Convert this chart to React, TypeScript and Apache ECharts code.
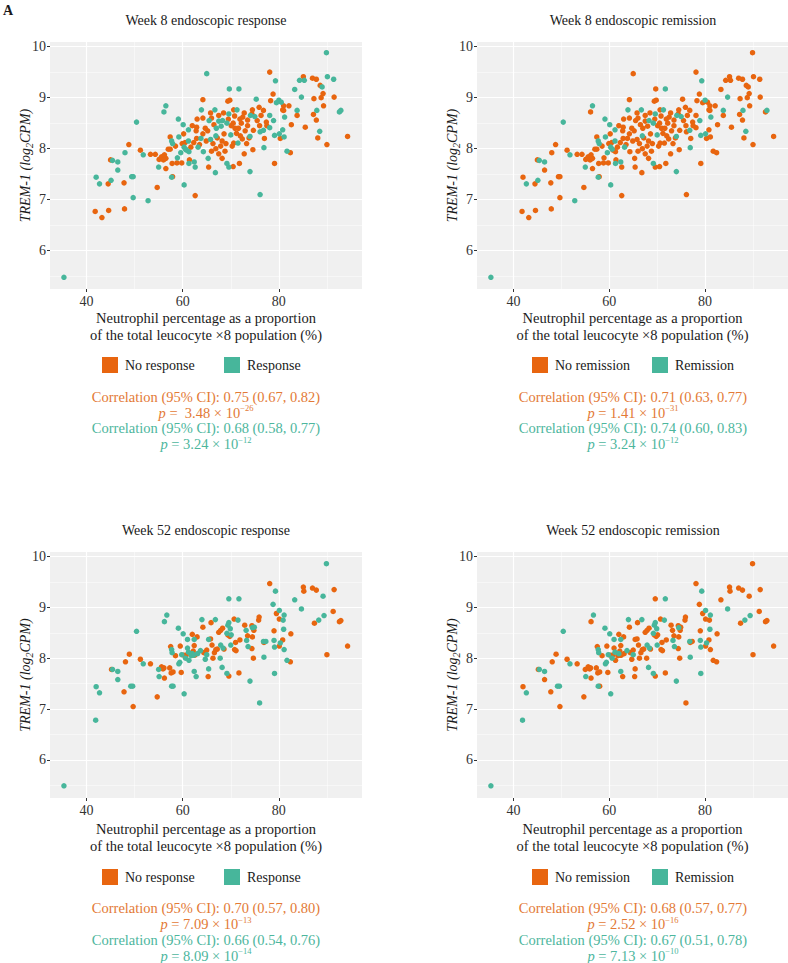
import React, { useEffect, useRef } from "react";
import * as echarts from "echarts";

const ORANGE = "#E8650F";
const TEAL = "#47B69B";
const ORANGE_TXT = "#E37A36";
const TEAL_TXT = "#4DB69D";
const FONT = "Liberation Serif";
const INK = "#1a1a1a";
const TICK_INK = "#333333";

// ---- Week 8 data (x: neutrophil %, y: TREM-1 log2CPM) ----
const w8Neutrophil = [
  35.3, 41.8, 43.2, 44.6, 47.9, 42.0, 42.7, 44.5, 45.1, 47.8, 49.4, 49.7, 48.8, 48.0, 45.4, 46.5, 45.0, 46.5, 49.7, 50.4,
  51.8, 51.2, 52.8, 54.7, 55.0, 53.3, 54.3, 55.1, 55.6, 56.0, 56.5, 56.2, 56.5, 57.4, 57.7, 57.9, 57.0, 57.4, 57.8, 58.8,
  58.9, 57.7, 57.9, 56.5, 56.1, 59.1, 60.1, 59.2, 60.2, 59.6, 60.3, 59.9, 60.8, 61.3, 60.5, 61.2, 62.0, 62.9, 61.7, 61.2,
  62.3, 62.9, 63.8, 63.5, 64.9, 64.2, 64.2, 64.2, 63.9, 65.0, 65.8, 66.7, 65.8, 65.2, 66.9, 66.3, 66.9, 67.2, 67.5, 66.5,
  68.0, 68.6, 68.2, 67.9, 69.6, 69.5, 69.2, 70.1, 69.4, 69.8, 69.7, 70.6, 70.8, 71.7, 71.3, 70.0, 70.6, 70.3, 71.5, 71.2,
  71.9, 72.2, 72.4, 72.8, 73.0, 73.5, 73.8, 74.0, 74.5, 74.4, 74.1, 74.7, 74.6, 75.3, 75.0, 75.9, 76.3, 76.8, 76.1, 76.8,
  76.9, 76.1, 74.0, 71.8, 72.8, 69.2, 69.6, 68.2, 66.8, 65.4, 65.3, 64.3, 62.6, 61.4, 61.3, 59.8, 60.3, 62.6, 77.4, 78.1,
  78.8, 78.3, 79.3, 80.0, 79.5, 80.5, 81.0, 82.1, 81.0, 78.1, 78.9, 80.8, 81.2, 78.1, 77.5, 79.1, 79.1, 80.1, 80.8, 80.3,
  81.1, 81.7, 82.4, 82.6, 83.8, 83.8, 83.3, 84.3, 85.3, 85.1, 84.7, 87.0, 87.8, 87.3, 88.8, 88.6, 89.0, 89.9, 90.1, 91.4,
  89.2, 91.5, 87.2, 87.9, 87.8, 89.3, 92.6, 92.9, 85.5, 88.5, 88.1, 90.0, 94.3, 63.0, 62.8, 64.7, 65.5, 66.0, 67.5, 68.5,
  67.0, 68.3, 70.5, 70.9, 71.6, 72.0, 73.3, 72.5, 75.5, 76.0, 69.0, 68.8, 58.5, 63.2, 62.4, 60.6, 66.0, 67.5, 70.5, 73.5,
  77.0,
];
const w8Trem1 = [
  5.48, 6.77, 6.65, 6.79, 6.82, 7.44, 7.31, 7.31, 7.38, 7.33, 7.45, 7.45, 8.08, 7.92, 7.77, 7.74, 7.78, 7.58, 7.04, 8.52,
  7.88, 7.97, 6.98, 7.24, 7.64, 7.89, 7.89, 7.79, 7.84, 7.78, 7.81, 7.88, 7.61, 8.23, 8.15, 8.10, 7.99, 7.99, 7.71, 7.72,
  7.82, 7.44, 7.45, 8.84, 8.72, 8.58, 8.47, 8.23, 8.29, 7.92, 8.03, 8.10, 7.97, 7.94, 8.12, 8.37, 8.45, 8.42, 8.03, 8.15,
  8.12, 8.20, 8.20, 8.08, 8.15, 8.29, 8.60, 8.96, 8.76, 9.47, 8.70, 8.76, 8.18, 8.35, 8.00, 8.10, 8.25, 8.21, 8.54, 8.47,
  8.44, 8.29, 8.15, 8.05, 8.68, 8.58, 8.50, 8.45, 8.93, 8.95, 9.17, 8.76, 8.64, 9.17, 8.76, 8.27, 8.11, 8.05, 8.11, 8.30,
  8.58, 8.50, 8.19, 8.70, 8.35, 8.56, 8.21, 8.24, 8.76, 8.68, 8.65, 8.36, 7.98, 8.97, 8.63, 8.81, 8.65, 8.75, 8.33, 8.36,
  8.02, 7.10, 7.55, 7.71, 7.90, 7.71, 7.64, 7.81, 7.53, 7.64, 7.81, 7.94, 7.64, 7.78, 7.71, 7.72, 7.29, 7.08, 8.52, 9.50,
  9.07, 8.94, 9.33, 8.95, 8.90, 8.91, 8.84, 8.84, 8.75, 8.65, 8.55, 8.76, 8.62, 8.41, 8.45, 8.26, 7.71, 8.29, 8.37, 8.20,
  8.23, 7.95, 7.92, 8.47, 8.75, 8.65, 9.16, 9.34, 9.34, 9.41, 9.01, 9.38, 9.36, 8.98, 9.00, 9.24, 9.21, 9.88, 9.41, 9.36,
  9.08, 9.01, 8.67, 8.75, 8.56, 8.84, 8.72, 8.75, 8.42, 8.34, 8.21, 8.08, 8.24, 8.58, 8.35, 8.40, 8.55, 8.60, 8.65, 8.70,
  8.40, 8.55, 8.50, 8.40, 8.40, 8.25, 8.10, 8.62, 8.55, 8.45, 8.10, 7.95, 8.05, 8.03, 7.74, 7.99, 7.95, 7.90, 7.65, 8.45,
  8.20,
];
// 1 = endoscopic response at week 8
const w8Response = [
  1, 0, 0, 0, 0, 1, 1, 0, 1, 0, 1, 1, 0, 1, 1, 1, 0, 1, 1, 1,
  1, 0, 1, 0, 1, 0, 0, 0, 0, 0, 0, 0, 0, 0, 1, 1, 0, 0, 0, 0,
  1, 1, 0, 1, 1, 1, 1, 1, 0, 1, 1, 0, 1, 1, 0, 1, 0, 0, 0, 1,
  0, 0, 1, 0, 0, 0, 0, 0, 1, 1, 0, 1, 1, 0, 0, 0, 1, 0, 1, 0,
  1, 0, 0, 0, 1, 0, 1, 0, 0, 0, 1, 0, 0, 1, 1, 1, 0, 0, 1, 0,
  0, 0, 0, 0, 0, 0, 0, 1, 0, 0, 1, 0, 0, 1, 1, 0, 0, 0, 1, 1,
  1, 1, 1, 0, 0, 1, 1, 0, 1, 0, 1, 1, 1, 0, 1, 0, 1, 0, 0, 0,
  0, 0, 1, 1, 1, 1, 0, 0, 0, 1, 1, 0, 1, 1, 0, 1, 0, 1, 1, 0,
  1, 1, 0, 0, 1, 0, 1, 1, 1, 0, 1, 0, 0, 0, 0, 0, 1, 1, 1, 1,
  0, 0, 0, 1, 0, 0, 1, 1, 0, 1, 0, 0, 0, 0, 0, 0, 1, 0, 0, 0,
  1, 1, 0, 0, 0, 0, 0, 0, 0, 0, 0, 0, 0, 1, 1, 1, 0, 0, 0, 0,
  0,
];
// 1 = endoscopic remission at week 8
const w8Remission = [
  1, 0, 0, 0, 0, 0, 1, 0, 1, 0, 0, 0, 0, 0, 1, 1, 0, 0, 0, 1,
  1, 0, 1, 0, 1, 0, 0, 0, 0, 0, 0, 0, 0, 0, 1, 1, 0, 0, 0, 0,
  0, 1, 0, 1, 0, 1, 1, 1, 0, 1, 1, 0, 0, 0, 0, 1, 0, 0, 0, 1,
  0, 0, 0, 0, 0, 0, 0, 0, 1, 0, 0, 1, 0, 0, 0, 0, 1, 0, 0, 0,
  0, 0, 0, 0, 1, 0, 1, 0, 0, 0, 0, 0, 0, 1, 1, 1, 0, 0, 0, 0,
  0, 0, 0, 0, 0, 0, 0, 1, 0, 0, 1, 0, 0, 0, 1, 0, 0, 0, 0, 1,
  1, 0, 1, 0, 0, 1, 0, 0, 0, 0, 0, 0, 0, 0, 1, 0, 1, 0, 0, 0,
  0, 0, 1, 1, 0, 0, 0, 0, 0, 0, 1, 0, 1, 0, 0, 1, 0, 1, 0, 0,
  0, 0, 0, 0, 1, 0, 0, 0, 0, 0, 1, 0, 0, 0, 0, 0, 0, 0, 0, 0,
  0, 0, 0, 1, 0, 0, 0, 1, 0, 1, 0, 0, 0, 0, 0, 0, 0, 0, 0, 0,
  0, 1, 0, 0, 0, 0, 0, 0, 0, 0, 0, 0, 0, 1, 1, 1, 0, 0, 0, 0,
  0,
];

// ---- Week 52 data ----
const w52Neutrophil = [
  35.3, 41.9, 42.0, 42.7, 45.4, 46.5, 46.5, 49.2, 49.6, 50.4, 51.8, 55.0, 55.1, 56.2, 56.7, 57.7, 57.8, 57.7, 58.0, 59.1,
  59.2, 59.4, 59.8, 60.1, 60.3, 60.6, 61.0, 61.0, 61.2, 61.3, 61.8, 62.0, 62.3, 62.4, 62.4, 62.8, 63.1, 63.7, 64.0, 64.7,
  65.0, 65.4, 65.4, 66.8, 67.8, 67.9, 68.2, 68.4, 69.2, 69.2, 69.4, 69.6, 69.6, 69.9, 70.0, 70.1, 71.5, 71.7, 73.2, 73.3,
  73.6, 74.0, 74.5, 74.9, 76.0, 76.8, 76.9, 77.3, 78.8, 79.0, 79.1, 79.1, 79.3, 80.1, 80.3, 81.1, 80.9, 81.0, 81.1, 81.7,
  83.3, 84.7, 88.3, 89.2, 89.4, 89.9,
  47.8, 48.1, 48.9, 49.7, 51.2, 45.2, 53.3, 54.7, 55.6, 55.9, 56.1, 56.2, 57.3, 57.5, 57.6, 58.0, 58.5, 59.5, 59.7, 60.2,
  60.7, 62.0, 62.2, 62.4, 62.5, 63.0, 64.2, 64.4, 65.0, 65.3, 65.8, 65.9, 66.1, 66.3, 66.6, 66.9, 67.2, 67.5, 67.9, 68.3,
  68.6, 69.4, 69.6, 69.8, 70.7, 70.8, 71.0, 71.1, 71.7, 71.9, 72.9, 73.5, 74.4, 74.5, 74.4, 74.7, 74.8, 75.8, 75.9, 76.9,
  78.1, 79.0, 79.5, 80.1, 80.1, 80.8, 82.5, 82.4, 85.1, 85.2, 87.0, 87.8, 87.4, 90.0, 91.3, 91.5, 92.6, 92.9, 94.3,
];
const w52Trem1 = [
  5.49, 6.78, 7.44, 7.32, 7.78, 7.74, 7.58, 7.45, 7.45, 8.53, 7.89, 7.78, 7.64, 8.72, 8.85, 8.17, 8.11, 7.45, 7.45, 8.59,
  7.89, 7.92, 8.07, 8.48, 7.30, 8.00, 8.37, 8.20, 8.12, 7.96, 8.05, 8.09, 8.06, 8.37, 7.74, 7.64, 8.09, 8.15, 8.76, 7.98,
  8.07, 8.37, 7.79, 8.76, 8.00, 8.26, 7.82, 8.20, 7.70, 8.49, 8.65, 9.17, 8.70, 8.58, 8.26, 8.46, 8.75, 9.17, 8.55, 8.35,
  8.23, 7.55, 8.60, 8.61, 7.12, 8.33, 8.02, 8.33, 9.06, 8.35, 8.22, 7.70, 9.32, 8.94, 8.30, 8.85, 8.75, 8.57, 8.17, 7.96,
  9.15, 8.97, 8.75, 9.22, 8.84, 9.86,
  7.34, 7.93, 8.08, 7.05, 7.98, 7.78, 7.89, 7.24, 7.83, 7.79, 7.81, 7.61, 7.81, 8.23, 7.71, 7.73, 8.05, 8.24, 7.72, 8.06,
  8.06, 8.47, 8.14, 8.25, 8.06, 8.42, 8.61, 8.11, 8.16, 7.64, 8.38, 8.70, 8.26, 8.00, 8.11, 8.17, 8.18, 8.51, 8.55, 8.59,
  8.18, 8.46, 7.65, 8.43, 8.77, 8.17, 8.31, 8.15, 7.71, 8.36, 8.65, 8.44, 8.64, 8.42, 8.19, 8.00, 8.55, 8.75, 8.81, 8.31,
  9.47, 8.54, 8.88, 8.77, 8.24, 8.36, 8.48, 7.93, 9.40, 9.32, 9.38, 9.34, 8.69, 8.07, 8.92, 9.35, 8.72, 8.74, 8.24,
];
const w52Response = [
  1, 1, 1, 1, 1, 1, 1, 1, 1, 1, 1, 1, 1, 1, 1, 1, 1, 1, 1, 1,
  1, 1, 1, 1, 1, 1, 1, 1, 1, 1, 1, 1, 1, 1, 1, 1, 1, 1, 1, 1,
  1, 1, 1, 1, 1, 1, 1, 1, 1, 1, 1, 1, 1, 1, 1, 1, 1, 1, 1, 1,
  1, 1, 1, 1, 1, 1, 1, 1, 1, 1, 1, 1, 1, 1, 1, 1, 1, 1, 1, 1,
  1, 1, 1, 1, 1, 1,
  0, 0, 0, 0, 0, 0, 0, 0, 0, 0, 0, 0, 0, 0, 0, 0, 0, 0, 0, 0,
  0, 0, 0, 0, 0, 0, 0, 0, 0, 0, 0, 0, 0, 0, 0, 0, 0, 0, 0, 0,
  0, 0, 0, 0, 0, 0, 0, 0, 0, 0, 0, 0, 0, 0, 0, 0, 0, 0, 0, 0,
  0, 0, 0, 0, 0, 0, 0, 0, 0, 0, 0, 0, 0, 0, 0, 0, 0, 0, 0,
];
const w52Remission = [
  1, 1, 0, 1, 1, 1, 0, 1, 1, 1, 1, 0, 1, 0, 1, 1, 1, 1, 0, 1,
  1, 1, 1, 1, 1, 1, 1, 0, 1, 0, 0, 1, 0, 1, 1, 0, 0, 1, 1, 0,
  1, 0, 0, 1, 0, 1, 1, 1, 1, 1, 1, 0, 1, 1, 1, 0, 1, 1, 0, 1,
  1, 1, 1, 0, 0, 1, 1, 0, 0, 1, 1, 1, 1, 1, 1, 1, 0, 1, 0, 0,
  0, 1, 1, 0, 1, 0,
  0, 0, 0, 0, 0, 0, 0, 0, 0, 0, 0, 0, 0, 0, 0, 0, 0, 0, 0, 0,
  0, 0, 0, 0, 0, 0, 0, 0, 0, 0, 0, 0, 0, 0, 0, 0, 0, 0, 0, 0,
  0, 0, 0, 0, 0, 0, 0, 0, 0, 0, 0, 0, 0, 0, 0, 0, 0, 0, 0, 0,
  0, 0, 0, 0, 0, 0, 0, 0, 0, 0, 0, 0, 0, 0, 0, 0, 0, 0, 0,
];

// ---- axes ----
const xTickValues = [40, 60, 80];
const xMinorValues = [50, 70, 90];
const yTickValues = [6, 7, 8, 9, 10];
const yMinorValues = [5.5, 6.5, 7.5, 8.5, 9.5];
const X_MIN = 32.4;
const X_MAX = 97.3;
const Y_MIN = 5.25;
const Y_MAX = 10.09;

const panelTitles = [
  "Week 8 endoscopic response",
  "Week 8 endoscopic remission",
  "Week 52 endoscopic response",
  "Week 52 endoscopic remission",
];
const legendNames = [
  ["No response", "Response"],
  ["No remission", "Remission"],
  ["No response", "Response"],
  ["No remission", "Remission"],
];
const corrOrange = [
  "Correlation (95% CI): 0.75 (0.67, 0.82)",
  "Correlation (95% CI): 0.71 (0.63, 0.77)",
  "Correlation (95% CI): 0.70 (0.57, 0.80)",
  "Correlation (95% CI): 0.68 (0.57, 0.77)",
];
const pOrange = [" 3.48", "1.41", "7.09", "2.52"];
const expOrange = ["−26", "−31", "−13", "−16"];
const corrTeal = [
  "Correlation (95% CI): 0.68 (0.58, 0.77)",
  "Correlation (95% CI): 0.74 (0.60, 0.83)",
  "Correlation (95% CI): 0.66 (0.54, 0.76)",
  "Correlation (95% CI): 0.67 (0.51, 0.78)",
];
const pTeal = ["3.24", "3.24", "8.09", "7.13"];
const expTeal = ["−12", "−12", "−14", "−10"];

const xAxisTitle = "Neutrophil percentage as a proportion\nof the total leucocyte ×8 population (%)";

function pick(xs: number[], ys: number[], flags: number[], v: number) {
  const out: number[][] = [];
  for (let i = 0; i < xs.length; i++) if (flags[i] === v) out.push([xs[i], ys[i]]);
  return out;
}

export default function App() {
  const ref = useRef<HTMLDivElement>(null);

  useEffect(() => {
    if (!ref.current) return;
    const chart = echarts.init(ref.current, undefined, { renderer: "svg", width: 788, height: 963 });

    const layout = [
      { left: 50, top: 42, height: 247, cx: 206, titleY: 20, legendY: 365, statY: 396.5, nameGap: 21 },
      { left: 477, top: 42, height: 247, cx: 633, titleY: 20, legendY: 365, statY: 396.5, nameGap: 21 },
      { left: 50, top: 552, height: 246, cx: 206, titleY: 530, legendY: 877, statY: 908, nameGap: 23 },
      { left: 477, top: 552, height: 246, cx: 633, titleY: 530, legendY: 877, statY: 908, nameGap: 23 },
    ];
    const legendX = [
      [102, 224],
      [532, 652],
      [102, 224],
      [532, 652],
    ];

    const groups = [
      { xs: w8Neutrophil, ys: w8Trem1, flags: w8Response },
      { xs: w8Neutrophil, ys: w8Trem1, flags: w8Remission },
      { xs: w52Neutrophil, ys: w52Trem1, flags: w52Response },
      { xs: w52Neutrophil, ys: w52Trem1, flags: w52Remission },
    ];

    const grids: any[] = [];
    const xAxes: any[] = [];
    const yAxes: any[] = [];
    const series: any[] = [];
    const graphics: any[] = [];

    graphics.push({
      type: "text",
      x: 3,
      y: 3,
      style: { text: "A", fontFamily: FONT, fontSize: 14, fontWeight: "bold", fill: INK },
    });

    layout.forEach((L, i) => {
      grids.push({
        left: L.left,
        top: L.top,
        width: 312,
        height: L.height,
        show: true,
        backgroundColor: "#F0F0F0",
        borderWidth: 0,
      });
      xAxes.push({
        type: "value",
        gridIndex: i,
        min: X_MIN,
        max: X_MAX,
        axisLine: { show: false },
        axisTick: { show: true, length: 3, customValues: xTickValues, lineStyle: { color: TICK_INK, width: 1 } },
        axisLabel: { customValues: xTickValues, margin: 5, color: TICK_INK, fontFamily: FONT, fontSize: 14 },
        splitLine: { show: false },
        name: xAxisTitle,
        nameLocation: "middle",
        nameGap: L.nameGap,
        nameMoveOverlap: false,
        nameTextStyle: { fontFamily: FONT, fontSize: 14.5, color: INK, lineHeight: 16.5, verticalAlign: "top" },
      });
      yAxes.push({
        type: "value",
        gridIndex: i,
        min: Y_MIN,
        max: Y_MAX,
        axisLine: { show: false },
        axisTick: { show: true, length: 3, customValues: yTickValues, lineStyle: { color: TICK_INK, width: 1 } },
        axisLabel: { customValues: yTickValues, margin: 4, color: TICK_INK, fontFamily: FONT, fontSize: 14 },
        splitLine: { show: false },
        name: "TREM-1 (log{s|2}CPM)",
        nameLocation: "middle",
        nameGap: 16,
        nameMoveOverlap: false,
        nameTextStyle: {
          fontFamily: FONT,
          fontSize: 14,
          fontStyle: "italic",
          color: INK,
          lineHeight: 18,
          rich: {
            s: { fontFamily: FONT, fontSize: 10, fontStyle: "italic", color: INK, verticalAlign: "bottom", lineHeight: 14 },
          },
        },
      });

      const g = groups[i];
      const gridLines: any[] = [];
      xTickValues.forEach((v) => gridLines.push({ xAxis: v, lineStyle: { width: 1.2 } }));
      xMinorValues.forEach((v) => gridLines.push({ xAxis: v, lineStyle: { width: 0.5 } }));
      yTickValues.forEach((v) => gridLines.push({ yAxis: v, lineStyle: { width: 1.2 } }));
      yMinorValues.forEach((v) => gridLines.push({ yAxis: v, lineStyle: { width: 0.5 } }));

      series.push({
        type: "scatter",
        name: legendNames[i][0],
        xAxisIndex: i,
        yAxisIndex: i,
        data: pick(g.xs, g.ys, g.flags, 0),
        symbolSize: 5.5,
        itemStyle: { color: ORANGE, opacity: 1 },
        z: 3,
        silent: true,
        markLine: {
          z: 1,
          silent: true,
          symbol: "none",
          label: { show: false },
          lineStyle: { color: "#FFFFFF", type: "solid", width: 1 },
          emphasis: { disabled: true },
          data: gridLines,
        },
      });
      series.push({
        type: "scatter",
        name: legendNames[i][1],
        xAxisIndex: i,
        yAxisIndex: i,
        data: pick(g.xs, g.ys, g.flags, 1),
        symbolSize: 5.5,
        itemStyle: { color: TEAL, opacity: 1 },
        z: 4,
        silent: true,
      });

      // titles
      graphics.push({
        type: "text",
        x: L.cx,
        y: L.titleY,
        style: {
          text: panelTitles[i],
          fontFamily: FONT,
          fontSize: 14,
          fill: INK,
          align: "center",
          verticalAlign: "middle",
        },
      });

      // legend
      const [ox, tx] = legendX[i];
      graphics.push({
        type: "rect",
        shape: { x: ox, y: L.legendY - 8, width: 16, height: 16 },
        style: { fill: ORANGE },
      });
      graphics.push({
        type: "text",
        x: ox + 23,
        y: L.legendY,
        style: { text: legendNames[i][0], fontFamily: FONT, fontSize: 14, fill: INK, verticalAlign: "middle" },
      });
      graphics.push({
        type: "rect",
        shape: { x: tx, y: L.legendY - 8, width: 16, height: 16 },
        style: { fill: TEAL },
      });
      graphics.push({
        type: "text",
        x: tx + 23,
        y: L.legendY,
        style: { text: legendNames[i][1], fontFamily: FONT, fontSize: 14, fill: INK, verticalAlign: "middle" },
      });

      // correlation statistics
      const statLine = (text: string, y: number, color: string) => ({
        type: "text",
        x: L.cx,
        y,
        style: { text, fontFamily: FONT, fontSize: 14.5, fill: color, align: "center", verticalAlign: "middle" },
      });
      const pLine = (p: string, e: string, y: number, color: string) => ({
        type: "text",
        x: L.cx,
        y,
        style: {
          text: "{i|p} = " + p + " × 10{s|" + e + "}",
          fontFamily: FONT,
          fontSize: 14.5,
          fill: color,
          lineHeight: 18,
          align: "center",
          verticalAlign: "middle",
          rich: {
            i: { fontFamily: FONT, fontSize: 14.5, fontStyle: "italic", fill: color, lineHeight: 18 },
            s: { fontFamily: FONT, fontSize: 8.5, fill: color, verticalAlign: "top", lineHeight: 8 },
          },
        },
      });
      graphics.push(statLine(corrOrange[i], L.statY, ORANGE_TXT));
      graphics.push(pLine(pOrange[i], expOrange[i], L.statY + 16, ORANGE_TXT));
      graphics.push(statLine(corrTeal[i], L.statY + 31.5, TEAL_TXT));
      graphics.push(pLine(pTeal[i], expTeal[i], L.statY + 47.5, TEAL_TXT));
    });

    chart.setOption({
      animation: false,
      backgroundColor: "#FFFFFF",
      textStyle: { fontFamily: FONT },
      grid: grids,
      xAxis: xAxes,
      yAxis: yAxes,
      series,
      graphic: { elements: graphics },
    });

    return () => {
      chart.dispose();
    };
  }, []);

  return (
    <div
      ref={ref}
      style={{ position: "absolute", left: 0, top: 0, width: 788, height: 963, overflow: "hidden" }}
    />
  );
}
